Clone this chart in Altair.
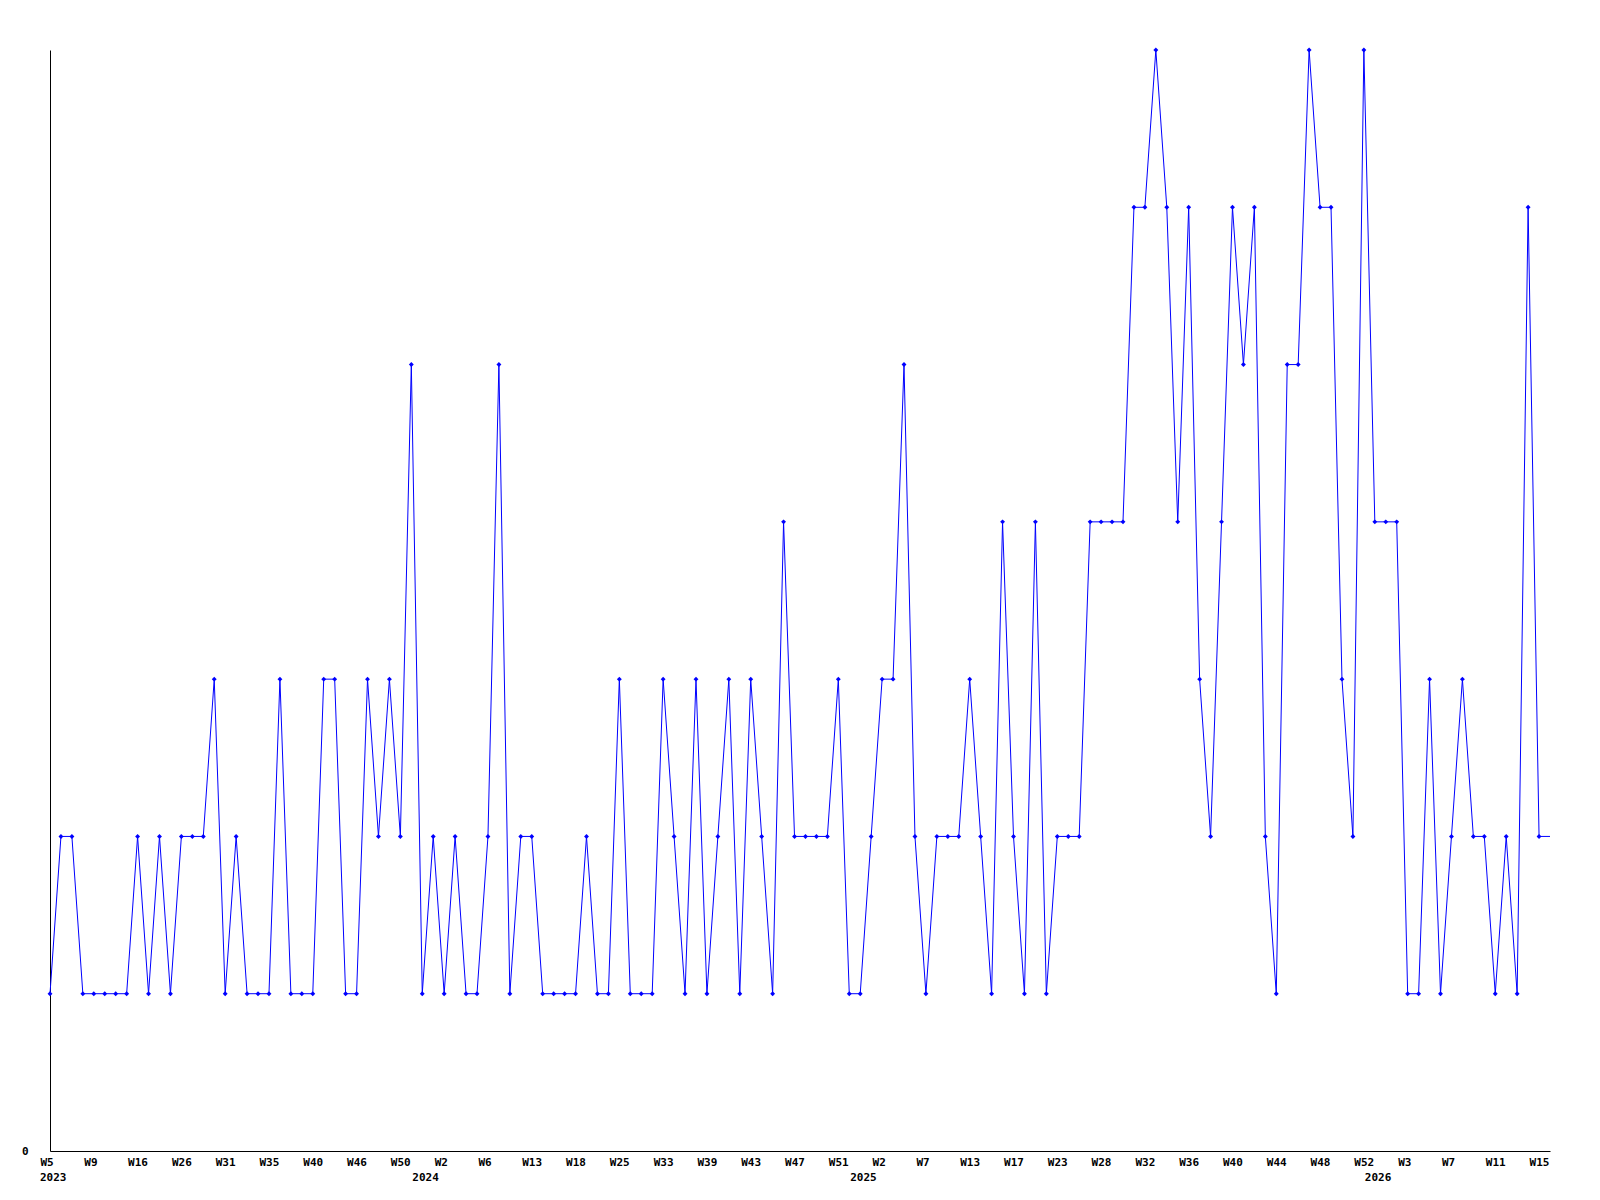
import altair as alt
import pandas as pd

# Week keys of each point (year-week), in plotting order
weeks_2023 = [5, 6, 7, 8, 9, 11, 13, 14, 16, 19, 21, 24, 26, 27, 29, 30, 31, 32, 33, 34,
              35, 36, 37, 38, 40, 41, 43, 44, 46, 47, 48, 49, 50, 52]
weeks_2024 = [0, 1, 2, 3, 4, 5, 6, 8, 10, 11, 13, 14, 15, 16, 18, 20, 22, 24, 25, 27,
              29, 31, 33, 35, 37, 38, 39, 40, 41, 42, 43, 44, 45, 46, 47, 48, 49, 50, 51, 52]
weeks_2025 = [0, 1, 2, 3, 5, 6, 7, 8, 10, 11, 13, 14, 15, 16, 17, 19, 20, 22, 23, 25,
              26, 27, 28, 29, 30, 31, 32, 33, 34, 35, 36, 37, 38, 39, 40, 41, 42, 43, 44, 45,
              46, 47, 48, 49, 50, 51, 52]
weeks_2026 = [0, 1, 2, 3, 4, 5, 6, 7, 8, 9, 10, 11, 12, 13, 14, 15, 16]

values = [1, 2, 2, 1, 1, 1, 1, 1, 2, 1, 2, 1, 2, 2, 2, 3, 1, 2, 1, 1,
          1, 3, 1, 1, 1, 3, 3, 1, 1, 3, 2, 3, 2, 5, 1, 2, 1, 2, 1, 1,
          2, 5, 1, 2, 2, 1, 1, 1, 1, 2, 1, 1, 3, 1, 1, 1, 3, 2, 1, 3,
          1, 2, 3, 1, 3, 2, 1, 4, 2, 2, 2, 2, 3, 1, 1, 2, 3, 3, 5, 2,
          1, 2, 2, 2, 3, 2, 1, 4, 2, 1, 4, 1, 2, 2, 2, 4, 4, 4, 4, 6,
          6, 7, 6, 4, 6, 3, 2, 4, 6, 5, 6, 2, 1, 5, 5, 7, 6, 6, 3, 2,
          7, 4, 4, 4, 1, 1, 3, 1, 2, 3, 2, 2, 1, 2, 1, 6, 2, 2]

keys = ([f"2023-W{w}" for w in weeks_2023] + [f"2024-W{w}" for w in weeks_2024] +
        [f"2025-W{w}" for w in weeks_2025] + [f"2026-W{w}" for w in weeks_2026])

years = ["2023", "2024", "2025", "2026"]
year_first_keys = ["2023-W5", "2024-W0", "2025-W0", "2026-W0"]

n = len(values)
df = pd.DataFrame({"key": keys[:n], "value": values, "i": list(range(n))})
df_years = pd.DataFrame({"key": year_first_keys, "year": years})

W, H = 1500, 1101
FONT = "DejaVu Sans Mono"

xscale = alt.Scale(type="point", domain=keys[:n], padding=0)
x_axis = alt.Axis(values=keys[:n][::4], labelExpr="split(datum.value, '-')[1]",
                  ticks=False, grid=False, domainColor="black", domainWidth=1,
                  labelFont=FONT, labelFontSize=11, labelFontWeight="bold",
                  labelColor="black", labelAlign="left", labelOffset=-10,
                  labelAngle=0, labelBaseline="top", labelPadding=5,
                  labelOverlap=False, title=None)
y_axis = alt.Axis(values=[0], ticks=False, grid=False, domainColor="black",
                  domainWidth=1, labelFont=FONT, labelFontSize=11,
                  labelFontWeight="bold", labelColor="black", labelPadding=22,
                  title=None)

base = alt.Chart(df).encode(
    x=alt.X("key:O", scale=xscale, axis=x_axis, sort=keys[:n]),
    y=alt.Y("value:Q", scale=alt.Scale(domain=[0, 7], nice=False, zero=True), axis=y_axis),
)

line = base.mark_line(color="#0000FF", strokeWidth=1)
pts = base.transform_filter(f"datum.i < {n - 1}").mark_point(
    shape="diamond", filled=True, size=24, color="#0000FF", opacity=1)

year_text = alt.Chart(df_years).mark_text(
    align="left", baseline="top", dx=-10, font=FONT, fontSize=11,
    fontWeight="bold", color="black"
).encode(
    x=alt.X("key:O", scale=xscale, sort=keys[:n]),
    y=alt.value(H + 21),
    text="year:N",
)

chart = alt.layer(line, pts, year_text).properties(
    width=W, height=H, autosize="none", background="white",
    padding={"left": 42, "top": 42, "right": 42, "bottom": 41},
).configure_view(stroke=None)

chart.save("out.html", embed_options={"renderer": "svg", "actions": False})
